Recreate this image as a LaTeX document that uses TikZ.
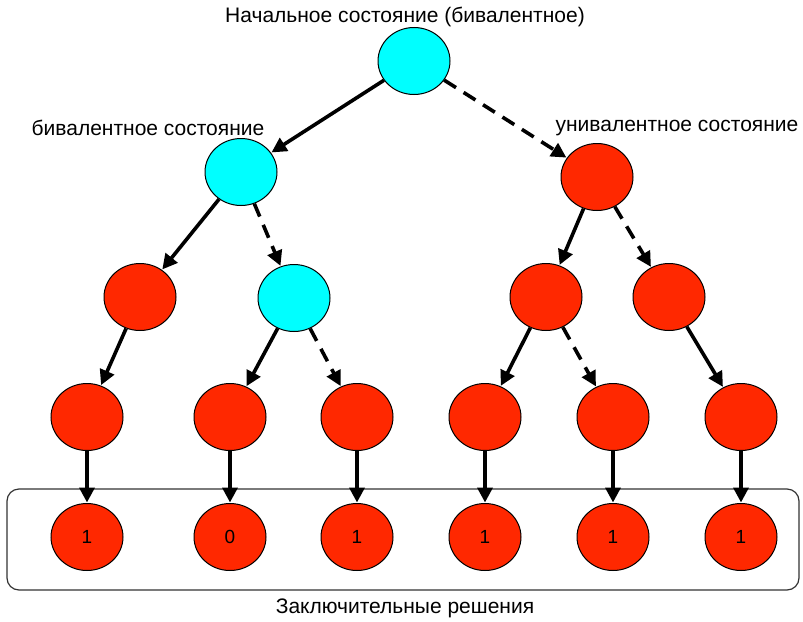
\documentclass[tikz,border=0pt]{standalone}
\usepackage{fontspec}
\setmainfont{Liberation Sans}
\usetikzlibrary{shapes.geometric,arrows.meta}
\definecolor{bival}{RGB}{0,255,255}
\definecolor{unival}{RGB}{255,40,0}
\tikzset{
  state/.style={ellipse, draw=black, line width=1pt, minimum width=72pt, minimum height=67pt, inner sep=0pt, font=\fontsize{19}{21}\selectfont},
  bistate/.style={state, fill=bival},
  unistate/.style={state, fill=unival},
  edge/.style={line width=3.6pt, -{Triangle[length=15pt,width=15pt]}, shorten >=0.5pt},
  dedge/.style={edge, dash pattern=on 14pt off 9pt},
  caption/.style={font=\fontsize{21}{24}\selectfont, inner sep=0pt}
}
\begin{document}
\begin{tikzpicture}[x=1pt,y=-1pt]
\useasboundingbox (0,0) rectangle (803,621);

% framing box around the final decisions
\draw[line width=1.2pt, draw=black!80, rounded corners=12pt] (7,489) rectangle (799,590);

% tree of states
\node[bistate]  (r)   at (414,61)  {};
\node[bistate]  (a)   at (241,172) {};
\node[unistate] (b)   at (597,177) {};
\node[unistate] (aa)  at (140,297) {};
\node[bistate]  (ab)  at (294,298) {};
\node[unistate] (ba)  at (546,297) {};
\node[unistate] (bb)  at (669,297) {};
\node[unistate] (aa1) at (87,417)  {};
\node[unistate] (ab1) at (230,417) {};
\node[unistate] (ab2) at (357,417) {};
\node[unistate] (ba1) at (485,417) {};
\node[unistate] (ba2) at (613,417) {};
\node[unistate] (bb1) at (741,417) {};
\node[unistate] (f1)  at (87,537)  {1};
\node[unistate] (f2)  at (230,537) {0};
\node[unistate] (f3)  at (357,537) {1};
\node[unistate] (f4)  at (485,537) {1};
\node[unistate] (f5)  at (613,537) {1};
\node[unistate] (f6)  at (741,537) {1};

% labels
\node[caption] (t0) at (405,17)  {Начальное состояние (бивалентное)};
\node[caption] (t1) at (148,128) {бивалентное состояние};
\node[caption] (t2) at (677,128) {унивалентное состояние};
\node[caption] (t3) at (405,608) {Заключительные решения};

% transitions
\draw[edge]  (r) -- (a);
\draw[dedge] (r) -- (b);
\draw[edge]  (a) -- (aa);
\draw[dedge] (a) -- (ab);
\draw[edge]  (b) -- (ba);
\draw[dedge] (b) -- (bb);
\draw[edge]  (aa) -- (aa1);
\draw[edge]  (ab) -- (ab1);
\draw[dedge] (ab) -- (ab2);
\draw[edge]  (ba) -- (ba1);
\draw[dedge] (ba) -- (ba2);
\draw[edge]  (bb) -- (bb1);
\draw[edge]  (aa1) -- (f1);
\draw[edge]  (ab1) -- (f2);
\draw[edge]  (ab2) -- (f3);
\draw[edge]  (ba1) -- (f4);
\draw[edge]  (ba2) -- (f5);
\draw[edge]  (bb1) -- (f6);
\end{tikzpicture}
\end{document}
